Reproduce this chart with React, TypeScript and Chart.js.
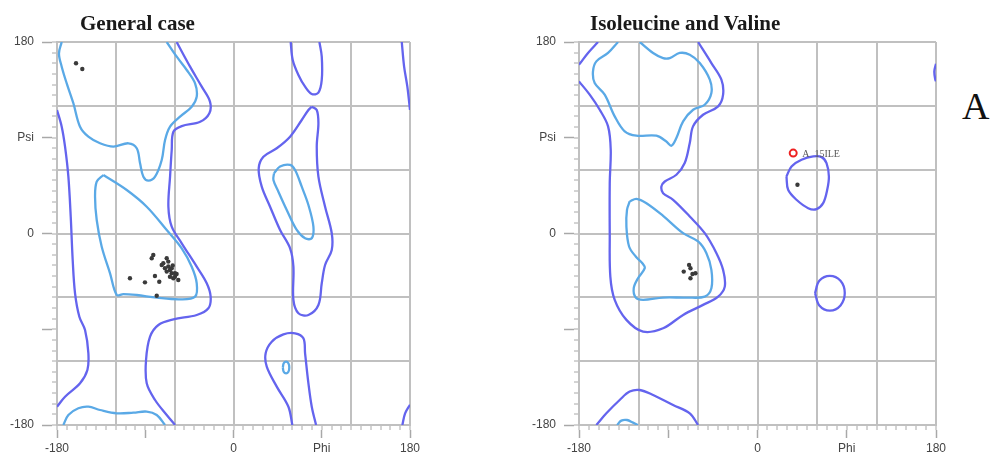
import React, { useEffect, useRef } from "react";
import { Chart, registerables } from "chart.js";
Chart.register(...registerables);

// ---------- axis / tick data ----------
const AXIS_MIN = -180;
const AXIS_MAX = 180;
const MINOR_STEP = 10;
const GRID_STEP = 60;
const xLabelTicks = [-180, -90, 0, 90, 180];
const xLabelTexts = ["-180", "", "0", "Phi", "180"];
const yLabelTicks = [180, 90, 0, -90, -180];
const yLabelTexts = ["180", "Psi", "0", "", "-180"];

const titleGeneral = "General case";
const titleIleVal = "Isoleucine and Valine";
const sideLetter = "A";

// ---------- General case: contours [phi, psi] ----------
const genOuterLeftStrip = [
  [-180, -162.8], [-171.8, -153.4], [-156.5, -140.8], [-149, -128.3], [-148, -112.6],
  [-151.4, -90.7], [-157.2, -78.2], [-161.6, -56.2], [-164, -24.9], [-166, 15.8],
  [-168.4, 53.4], [-171.8, 81.6], [-175.2, 100.4], [-180, 116.1],
];
const genOuterRightEdgeTop = [[171.6, 180], [174, 156.8], [177.3, 138], [180, 116.1]];
const genOuterRightEdgeBottom = [[172.2, -180], [175, -169], [180, -161]];
const genOuterMain = [
  [-58, 180], [-44.3, 156.8], [-32.4, 138], [-24, 124], [-24.6, 113], [-34, 105],
  [-52.8, 101], [-61.3, 95.7], [-63, 78.5], [-64.7, 53.4], [-66.4, 25.2], [-63, 6.4],
  [-52.8, -9.2], [-37.5, -31.2], [-27.3, -46.8], [-23.3, -59.4], [-25.6, -70.3],
  [-37.5, -76.6], [-61.3, -80.7], [-76.6, -86], [-85.1, -97], [-89.2, -118.9],
  [-88.5, -140.8], [-80, -156.5], [-68.1, -170.6], [-59.6, -180],
];
const genInnerBeta = [
  [-175.2, 180], [-178, 169.3], [-175.2, 156.8], [-170.1, 141.1], [-163.3, 122.4],
  [-156.5, 100.4], [-148, 91], [-136.1, 84.8], [-122.5, 81.6], [-107.2, 84.8],
  [-98.7, 80.1], [-95.3, 66], [-91.9, 53.4], [-86.8, 49.7], [-80, 53.4], [-73.2, 69.1],
  [-69.8, 87.9], [-64.7, 100.4], [-54.5, 109.8], [-42.6, 119.2], [-37.5, 128.6],
  [-39.2, 141.1], [-47.7, 153.7], [-57.9, 166.2], [-68.1, 180],
];
const genInnerAlpha = [
  [-132.7, 55], [-108.9, 40.9], [-88.5, 25.2], [-68.1, 3.3], [-52.8, -13.9], [-42.6, -31.2],
  [-37.5, -46.8], [-39.2, -59.4], [-54.5, -61.9], [-78.3, -60.3], [-98.7, -57.8],
  [-112.3, -56.9], [-119.1, -57.8], [-125.9, -37.4], [-134.4, -12.4], [-139.5, 12.7],
  [-141.2, 34.6], [-139.5, 48.7], [-132.7, 55],
];
const genInnerBottom = [
  [-173.5, -180], [-168.4, -170.6], [-158.2, -164.3], [-148, -162.8], [-136.1, -165.9],
  [-119.1, -169], [-102.1, -168.4], [-88.5, -167.4], [-78.3, -170.6], [-69.8, -180],
];
const genOuterLeftHandTop = [
  [58.3, 180], [60.4, 163.1], [66.2, 149], [73, 138], [79.8, 131.1], [86.6, 132.4],
  [90, 144.3], [90, 166.2], [87.6, 180],
];
const genOuterLeftHandBottom = [
  [60, -180], [56, -162.8], [44.1, -143.9], [33.9, -125.2], [32.8, -112.6], [39, -101.7],
  [50.9, -94.8], [62.8, -93.8], [71.3, -98.5], [73, -112.6], [76.4, -140.8],
  [79.8, -162.8], [84.2, -180],
];
const genOuterLeftHandMid = [
  [79.8, 119.2], [84.9, 116.1], [86.6, 103.6], [84.9, 81.6], [86.6, 53.4], [93.4, 25.2],
  [100.2, 0.2], [100.2, -15.5], [93.4, -29.6], [90, -46.8], [86.6, -67.2], [76.4, -76.6],
  [66.2, -75], [61.1, -62.5], [61.1, -31.2], [57.7, -13.9], [47.5, 3.3], [37.3, 25.2],
  [28.8, 44], [25.7, 61.3], [30.5, 72.2], [44.1, 80.1], [57.7, 91], [69.6, 106.7],
  [76.4, 116.1], [79.8, 119.2],
];
const genInnerLeftHand = [
  [41.3, 56.6], [47.5, 62.9], [57.7, 64.4], [62.8, 59.7], [69.6, 44], [76.4, 26.8],
  [81.5, 6.4], [79.8, -4.5], [73, -4.5], [64.5, 3.3], [54.3, 22.1], [45.8, 39.3],
  [40.7, 50.3], [41.3, 56.6],
];
const genInnerSmall = [
  [50.3, -126], [51.2, -122], [53.6, -120.5], [56, -122], [56.9, -126], [56, -130],
  [53.6, -131.5], [51.2, -130], [50.3, -126],
];
const genResidues = [
  [-160.6, 160], [-154.2, 154.6],
  [-81.8, -20.2], [-83.4, -23.3], [-68.1, -23.3], [-66.5, -26.4], [-73.2, -29.6],
  [-69.9, -32.7], [-64.8, -34.3], [-63.0, -37.4], [-59.7, -40.6], [-56.3, -43.7],
  [-61.4, -42.1], [-105.6, -42.1], [-90.3, -45.9], [-80.1, -40.0], [-75.7, -45.3],
  [-78.3, -58.5], [-71.6, -28], [-66.5, -31], [-63, -32.7], [-68.1, -35.8],
  [-59.7, -37.4], [-64.8, -40.6], [-62, -30], [-58, -38],
];

// ---------- Isoleucine and Valine: contours [phi, psi] ----------
const ivOuterTopLeft = [[-160.8, 180], [-170.9, 169.7], [-178.7, 160.2], [-180, 158.7]];
const ivOuterRightEdge = [[180, 159.6], [178.3, 152.4], [179.3, 144.6], [180, 143]];
const ivOuterMain = [
  [-180, 143], [-169.2, 130.5], [-159.1, 116.3], [-150.7, 100.7], [-148, 78.7],
  [-149, 47.3], [-149, 0.3], [-148.4, -40.5], [-144, -62.4], [-132.2, -81.2],
  [-115.4, -92.2], [-95.2, -89.1], [-75, -76.5], [-54.9, -67.1], [-39.7, -59.3],
  [-33, -49.9], [-34.7, -34.2], [-41.4, -18.5], [-53.2, 0.3], [-68.3, 16], [-85.1, 31.7],
  [-95.2, 37.9], [-96.9, 44.2], [-93.5, 48.9], [-81.8, 55.2], [-73.4, 66.2], [-68.3, 85],
  [-65, 100.7], [-54.9, 111.6], [-39.7, 119.5], [-34.7, 130.5], [-36.4, 144.6],
  [-46.5, 160.2], [-59.9, 180],
];
const ivInnerTop = [
  [-140.6, 180], [-150.7, 169.7], [-162.5, 161.8], [-165.9, 152.4], [-164.2, 141.4],
  [-154.1, 130.5], [-144, 110.1], [-133.9, 96], [-122.1, 91.9], [-102, 91.9],
  [-91.9, 86.5], [-86.8, 82.5], [-81.8, 89.7], [-75, 105.4], [-64.9, 116.3],
  [-53.2, 121], [-46.5, 132], [-48.1, 144.6], [-58.2, 160.2], [-68.3, 168.1],
  [-78.4, 169.7], [-88.5, 164.9], [-95.2, 164.9], [-105.3, 169.7], [-118.8, 180],
];
const ivInnerAlpha = [
  [-128.9, 30.1], [-122.1, 32.6], [-112, 28.5], [-95.2, 16.6], [-75, 0.3], [-59.9, -7.5],
  [-51.5, -18.5], [-46.5, -34.2], [-46.5, -51.4], [-53.2, -59.3], [-71.7, -60.2],
  [-95.2, -60.2], [-115.4, -62.4], [-122.8, -60.2], [-124.8, -51.4], [-120.5, -42],
  [-113.7, -32.6], [-116.1, -27.9], [-122.8, -21.6], [-129.5, -12.2], [-132.2, 6.6],
  [-131.6, 22.3], [-128.9, 30.1],
];
const ivOuterLeftHand = [
  [29.2, 53.6], [34.3, 63], [44.4, 69.3], [56.2, 72.4], [64.6, 71.8], [69.6, 66.2],
  [72, 53.6], [70.3, 41.1], [66.2, 28.5], [59.5, 22.9], [51.1, 23.8], [39.3, 31.7],
  [30.9, 41.1], [29.2, 53.6],
];
const ivOuterRound = [
  [58, -56], [62.3, -44.5], [73, -39.8], [83.7, -44.5], [88, -56], [83.7, -67.6],
  [73, -72.4], [62.3, -67.6], [58, -56],
];
const ivOuterBottom = [
  [-162.5, -180], [-152.4, -169], [-139, -156.5], [-128.9, -148.6], [-118.8, -147.1],
  [-105.3, -151.8], [-85.1, -161.2], [-68.3, -169], [-59.9, -180],
];
const ivInnerBottom = [
  [-141.6, -180], [-137.3, -175.9], [-131.6, -175.3], [-125.5, -177.8], [-120.5, -180],
];
const ivResidues = [
  [40.3, 45.8], [-74.4, -35.8], [-69, -29.5], [-67.6, -32.6], [-65.6, -38],
  [-67.6, -42], [-62.6, -37.3],
];
const ivOutliers = [[36, 75.6]];
const ivOutlierLabels = ["A  15ILE"];

// ---------- styles ----------
const OUTER = "#6464ee";
const INNER = "#5aa9e6";
const GRID = "#c0c0c0";
const TICK = "#a8a8a8";
const LABEL = "#444444";

const toPts = (a: number[][]) => a.map(([x, y]) => ({ x, y }));

const minorTicks: { value: number }[] = [];
for (let v = AXIS_MIN; v <= AXIS_MAX; v += MINOR_STEP) minorTicks.push({ value: v });

const labelPlugin = {
  id: "outlierLabels",
  afterDatasetsDraw(chart: any) {
    const ctx = chart.ctx;
    chart.data.datasets.forEach((ds: any, i: number) => {
      if (!ds.pointLabels) return;
      const meta = chart.getDatasetMeta(i);
      meta.data.forEach((el: any, j: number) => {
        ctx.save();
        ctx.font = "10px 'Liberation Serif'";
        ctx.fillStyle = "#5a5a5a";
        ctx.textBaseline = "middle";
        ctx.fillText(ds.pointLabels[j], el.x + 9, el.y + 1);
        ctx.restore();
      });
    });
  },
};

type Contour = { data: number[][]; color: string };

function Panel(props: {
  left: number;
  width: number;
  padRight: number;
  contours: Contour[];
  residues: number[][];
  outliers?: number[][];
  outlierLabels?: string[];
}) {
  const ref = useRef<HTMLCanvasElement>(null);
  useEffect(() => {
    const datasets: any[] = [];
    if (props.outliers) {
      datasets.push({
        type: "scatter",
        data: toPts(props.outliers),
        pointLabels: props.outlierLabels,
        pointRadius: 3.5,
        pointBorderWidth: 2,
        pointBorderColor: "#ee2020",
        pointBackgroundColor: "#ffffff",
      });
    }
    datasets.push({
      type: "scatter",
      data: toPts(props.residues),
      pointRadius: 2.2,
      pointBorderWidth: 0,
      pointBackgroundColor: "#3a3a3a",
    });
    props.contours.forEach((c) => {
      datasets.push({
        type: "line",
        data: toPts(c.data),
        showLine: true,
        borderColor: c.color,
        borderWidth: 2.3,
        pointRadius: 0,
        tension: 0.35,
        fill: false,
      });
    });
    const lineAxisCommon = {
      type: "linear",
      min: AXIS_MIN,
      max: AXIS_MAX,
    };
    const chart = new Chart(ref.current as HTMLCanvasElement, {
      type: "scatter",
      data: { datasets },
      plugins: [labelPlugin],
      options: {
        animation: false,
        responsive: false,
        layout: { padding: { left: 0, right: props.padRight, top: 42, bottom: 0 } },
        plugins: { legend: { display: false }, tooltip: { enabled: false }, title: { display: false } },
        scales: {
          x: {
            ...lineAxisCommon,
            position: "bottom",
            weight: 0,
            afterBuildTicks: (s: any) => { s.ticks = minorTicks.map((t) => ({ ...t })); },
            afterFit: (s: any) => { s.height = 5; },
            ticks: { display: false, autoSkip: false },
            grid: {
              color: (c: any) => (c.tick && c.tick.value % GRID_STEP === 0 ? GRID : "rgba(0,0,0,0)"),
              lineWidth: 2,
              tickLength: 5,
              tickColor: TICK,
              tickWidth: 1,
            },
            border: { display: true, color: GRID, width: 2 },
          },
          x2: {
            ...lineAxisCommon,
            position: "bottom",
            weight: 1,
            afterBuildTicks: (s: any) => { s.ticks = xLabelTicks.map((v) => ({ value: v })); },
            afterFit: (s: any) => { s.height = 28; },
            ticks: {
              autoSkip: false,
              maxRotation: 0,
              padding: 3,
              color: LABEL,
              font: { family: "'Liberation Sans', Arial, sans-serif", size: 12 },
              callback: (v: any) => {
                const i = xLabelTicks.indexOf(Number(v));
                return i >= 0 ? xLabelTexts[i] : "";
              },
            },
            grid: { drawOnChartArea: false, tickLength: 8, tickColor: TICK, tickWidth: 1.5 },
            border: { display: false },
          },
          y: {
            ...lineAxisCommon,
            position: "left",
            weight: 0,
            afterBuildTicks: (s: any) => { s.ticks = minorTicks.map((t) => ({ ...t })); },
            afterFit: (s: any) => { s.width = 5; },
            ticks: { display: false, autoSkip: false },
            grid: {
              color: (c: any) => (c.tick && c.tick.value % GRID_STEP === 0 ? GRID : "rgba(0,0,0,0)"),
              lineWidth: 2,
              tickLength: 5,
              tickColor: TICK,
              tickWidth: 1,
            },
            border: { display: true, color: GRID, width: 2 },
          },
          y2: {
            ...lineAxisCommon,
            position: "left",
            weight: 1,
            afterBuildTicks: (s: any) => { s.ticks = yLabelTicks.map((v) => ({ value: v })); },
            afterFit: (s: any) => { s.width = 52; },
            ticks: {
              autoSkip: false,
              padding: 8,
              color: LABEL,
              font: { family: "'Liberation Sans', Arial, sans-serif", size: 12 },
              callback: (v: any) => {
                const i = yLabelTicks.indexOf(Number(v));
                return i >= 0 ? yLabelTexts[i] : "";
              },
            },
            grid: { drawOnChartArea: false, tickLength: 10, tickColor: TICK, tickWidth: 1.5 },
            border: { display: false },
          },
        },
      } as any,
    });
    return () => chart.destroy();
  }, []);
  return (
    <canvas
      ref={ref}
      width={props.width}
      height={458}
      style={{ position: "absolute", left: props.left, top: 0, width: props.width, height: 458, display: "block" }}
    />
  );
}

const titleStyle: React.CSSProperties = {
  position: "absolute",
  top: 13,
  fontFamily: "'Liberation Serif', 'Times New Roman', serif",
  fontWeight: "bold",
  fontSize: 21,
  lineHeight: "21px",
  color: "#1a1a1a",
  whiteSpace: "nowrap",
};

export default function App() {
  const genContours: Contour[] = [
    { data: genOuterLeftStrip, color: OUTER },
    { data: genOuterRightEdgeTop, color: OUTER },
    { data: genOuterRightEdgeBottom, color: OUTER },
    { data: genOuterMain, color: OUTER },
    { data: genOuterLeftHandTop, color: OUTER },
    { data: genOuterLeftHandBottom, color: OUTER },
    { data: genOuterLeftHandMid, color: OUTER },
    { data: genInnerBeta, color: INNER },
    { data: genInnerAlpha, color: INNER },
    { data: genInnerBottom, color: INNER },
    { data: genInnerLeftHand, color: INNER },
    { data: genInnerSmall, color: INNER },
  ];
  const ivContours: Contour[] = [
    { data: ivOuterTopLeft, color: OUTER },
    { data: ivOuterRightEdge, color: OUTER },
    { data: ivOuterMain, color: OUTER },
    { data: ivOuterLeftHand, color: OUTER },
    { data: ivOuterRound, color: OUTER },
    { data: ivOuterBottom, color: OUTER },
    { data: ivInnerTop, color: INNER },
    { data: ivInnerAlpha, color: INNER },
    { data: ivInnerBottom, color: INNER },
  ];
  return (
    <div style={{ position: "absolute", left: 0, top: 0, width: 992, height: 458, background: "#ffffff", overflow: "hidden" }}>
      <Panel left={0} width={430} padRight={20} contours={genContours} residues={genResidues} />
      <Panel
        left={522}
        width={440}
        padRight={26}
        contours={ivContours}
        residues={ivResidues}
        outliers={ivOutliers}
        outlierLabels={ivOutlierLabels}
      />
      <div style={{ ...titleStyle, left: 80 }}>{titleGeneral}</div>
      <div style={{ ...titleStyle, left: 590 }}>{titleIleVal}</div>
      <div
        style={{
          position: "absolute",
          left: 962,
          top: 87,
          fontFamily: "'Liberation Serif', 'Times New Roman', serif",
          fontSize: 38,
          lineHeight: "38px",
          color: "#111",
        }}
      >
        {sideLetter}
      </div>
    </div>
  );
}
